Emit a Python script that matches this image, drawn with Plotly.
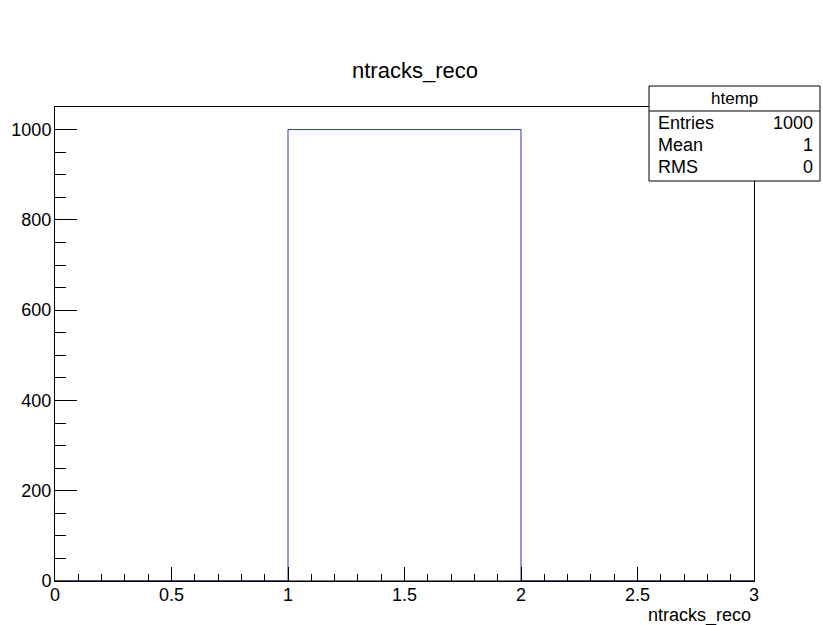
import plotly.graph_objects as go

# Data
bin_edges = [0, 1, 2, 3]
counts = [0, 1000, 0]
stats_name = "htemp"
stats_labels = ["Entries", "Mean", "RMS"]
stats_values = ["1000", "1", "0"]
title_text = "ntracks_reco"
x_title = "ntracks_reco"

W, H = 823, 625
L, R, T, B = 55, 754, 107, 581
PW, PH = R - L, B - T

def px(x):
    return (x - L) / PW

def py(y):
    return (B - y) / PH

FONT = "Liberation Sans, Arial, Helvetica, sans-serif"

fig = go.Figure()
fig.add_trace(go.Scatter(
    x=bin_edges,
    y=counts + [counts[-1]],
    mode="lines",
    line=dict(color="#2e2ec0", width=1, shape="hv"),
    hoverinfo="skip",
    showlegend=False,
))

fig.update_layout(
    template="none",
    width=W, height=H,
    margin=dict(l=L, r=W - R, t=T, b=H - B, pad=0, autoexpand=False),
    paper_bgcolor="white",
    plot_bgcolor="white",
    font=dict(family=FONT, color="black", size=18),
    title=dict(text=title_text, x=415 / W, xanchor="center",
               y=1 - 70 / H, yanchor="middle", yref="container",
               font=dict(size=22, family=FONT, color="black")),
    showlegend=False,
)

fig.update_xaxes(
    range=[0, 3], showgrid=False, zeroline=False, automargin=False,
    showline=True, linecolor="black", linewidth=1, mirror=True,
    layer="above traces",
    ticks="inside", ticklen=14, tickcolor="black", tickwidth=1,
    dtick=0.5, tick0=0, tickfont=dict(size=18, family=FONT),
    ticklabelstandoff=-3,
    minor=dict(dtick=0.1, ticks="inside", ticklen=7, tickcolor="black", showgrid=False),
)
fig.update_yaxes(
    range=[0, 1050], showgrid=False, zeroline=False, automargin=False,
    showline=True, linecolor="black", linewidth=1, mirror=True,
    layer="above traces",
    ticks="inside", ticklen=22, tickcolor="black", tickwidth=1,
    dtick=200, tick0=0, tickfont=dict(size=18, family=FONT),
    ticklabelstandoff=-1,
    minor=dict(dtick=50, ticks="inside", ticklen=11, tickcolor="black", showgrid=False),
)

# frame bottom edge redrawn above the histogram outline (as in ROOT)
fig.add_shape(type="line", xref="paper", yref="paper", x0=0, x1=1, y0=0, y1=0,
              line=dict(color="black", width=1.2), layer="above")

# x-axis title, right aligned under axis
fig.add_annotation(
    text=x_title, xref="paper", yref="paper",
    x=px(753), y=py(615), xanchor="right", yanchor="middle",
    showarrow=False, font=dict(size=18, family=FONT, color="black"),
)

# stats box
bx0, bx1, by0, by1, hy = 649, 820, 86, 181, 111
fig.add_shape(type="rect", xref="paper", yref="paper",
              x0=px(bx0), x1=px(bx1), y0=py(by1), y1=py(by0),
              line=dict(color="black", width=1), fillcolor="white", layer="above")
fig.add_shape(type="line", xref="paper", yref="paper",
              x0=px(bx0), x1=px(bx1), y0=py(hy), y1=py(hy),
              line=dict(color="black", width=1), layer="above")
fig.add_annotation(text=stats_name, xref="paper", yref="paper",
                   x=px((bx0 + bx1) / 2), y=py(98.5), xanchor="center", yanchor="middle",
                   showarrow=False, font=dict(size=17, family=FONT, color="black"))
row_y = [123, 145, 167]
for lab, val, yy in zip(stats_labels, stats_values, row_y):
    fig.add_annotation(text=lab, xref="paper", yref="paper",
                       x=px(656), y=py(yy), xanchor="left", yanchor="middle",
                       showarrow=False, font=dict(size=18, family=FONT, color="black"))
    fig.add_annotation(text=val, xref="paper", yref="paper",
                       x=px(815), y=py(yy), xanchor="right", yanchor="middle",
                       showarrow=False, font=dict(size=18, family=FONT, color="black"))

fig.write_html("out.html", config={"displayModeBar": False},
               post_script="document.body.style.margin='0px';document.body.style.overflow='hidden';")
